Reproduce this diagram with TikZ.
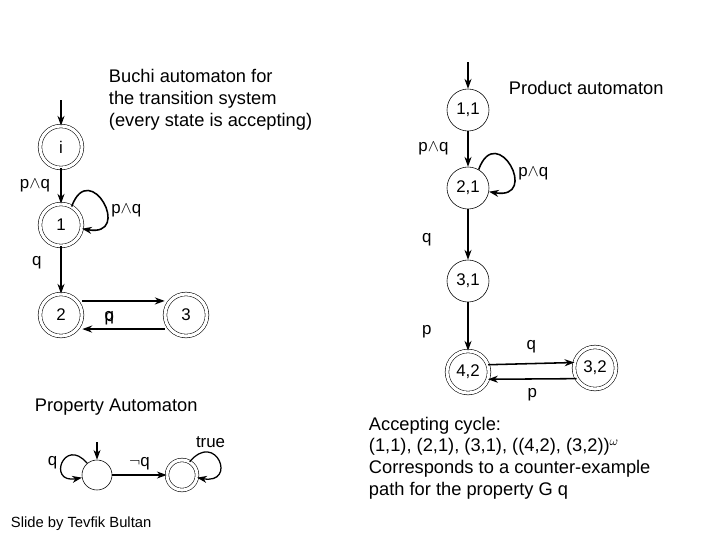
\documentclass[tikz,border=0pt]{standalone}
\usepackage{fontspec}
\setmainfont{Liberation Sans}
\usetikzlibrary{arrows.meta}
\begin{document}
\begin{tikzpicture}[x=0.025cm,y=-0.025cm,
  st/.style={circle,draw,thin,minimum size=1.05cm,inner sep=0pt,font=\fontsize{12}{14}\selectfont},
  acc/.style={st,double,double distance=2.2pt},
  sst/.style={circle,draw,thin,minimum size=0.75cm,inner sep=0pt},
  sacc/.style={sst,double,double distance=2.2pt},
  tr/.style={-{Stealth[length=7pt,width=5pt]},line width=1.1pt},
  lb/.style={font=\fontsize{12}{14}\selectfont},
  tx/.style={font=\fontsize{13}{15.5}\selectfont,align=left,anchor=west}]
\useasboundingbox (0,0) rectangle (720,540);
% Buchi automaton of the transition system
\node[acc] (i) at (61,147) {i};
\node[acc] (s1) at (61,225) {1};
\node[acc] (s2) at (61,315) {2};
\node[acc] (s3) at (186,315) {3};
\coordinate (i0) at (61,100);
\draw[tr] (i0) -- (i);
\draw[tr] (i) -- node[lb,left,xshift=-4pt] {p$\wedge$q} (s1);
\draw[tr] (s1.60) to[out=70,in=-10,looseness=5.5] node[lb,right,pos=0.6] {p$\wedge$q} (s1.-10);
\draw[tr] (s1) -- node[lb,left,xshift=-10pt,pos=0.35] {q} (s2);
\draw[tr] ([yshift=-10pt]s3.west) -- node[lb,above,xshift=-10pt] {q} ([yshift=-10pt]s2.east);
\draw[tr] ([yshift=10pt]s2.east) -- node[lb,below,xshift=-10pt,yshift=-4pt] {p} ([yshift=10pt]s3.west);
\node[tx] (t1) at (104,100) {Buchi automaton for\\the transition system\\(every state is accepting)};
% Product automaton
\node[st] (p11) at (468,110) {1,1};
\node[st] (p21) at (468,188) {2,1};
\node[st] (p31) at (468,281) {3,1};
\node[acc] (p42) at (468,372) {4,2};
\node[acc] (p32) at (595,368) {3,2};
\coordinate (p0) at (468,62);
\draw[tr] (p0) -- (p11);
\draw[tr] (p11) -- node[lb,left,xshift=-10pt] {p$\wedge$q} (p21);
\draw[tr] (p21.60) to[out=70,in=-10,looseness=5.5] node[lb,right,pos=0.6] {p$\wedge$q} (p21.-10);
\draw[tr] (p21) -- node[lb,left,xshift=-22pt,yshift=-4pt] {q} (p31);
\draw[tr] (p31) -- node[lb,left,xshift=-22pt,yshift=-4pt] {p} (p42);
\draw[tr] (p42.20) -- node[lb,above,yshift=4pt] {q} (p32.165);
\draw[tr] (p32.-150) -- node[lb,below,yshift=-3pt] {p} (p42.-20);
\node[tx] (t2) at (504,88) {Product automaton};
% Property automaton
\node[tx] (t3) at (30,407) {Property Automaton};
\node[sst] (a0) at (97,475) {};
\node[sacc] (a1) at (182,475) {};
\coordinate (a00) at (97,442);
\draw[tr,line width=0.9pt] (a00) -- (a0);
\draw[tr,line width=0.9pt] (a0) -- node[lb,above] {$\neg$q} (a1);
\draw[tr,line width=0.9pt] (a0.130) to[out=130,in=190,looseness=6] node[lb,left] {q} (a0.190);
\draw[tr,line width=0.9pt] (a1.60) to[out=50,in=-10,looseness=6] node[lb,above,pos=0.3] {true} (a1.-10);
\node[tx,font=\fontsize{10.5}{12}\selectfont] (sl) at (6,524) {Slide by Tevfik Bultan};
% Accepting cycle
\node[tx] (t4) at (364,458) {Accepting cycle:\\(1,1), (2,1), (3,1), ((4,2), (3,2))$^\omega$\\Corresponds to a counter-example\\path for the property G q};
\end{tikzpicture}
\end{document}
